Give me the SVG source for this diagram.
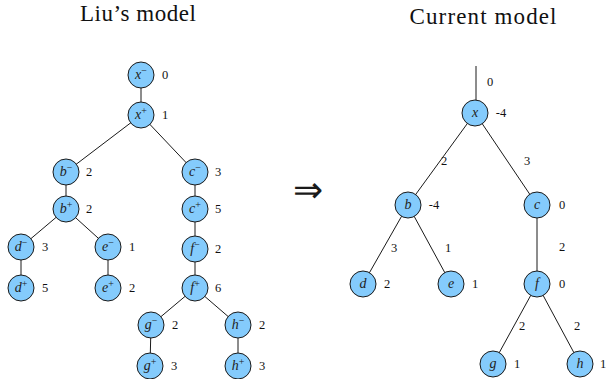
<svg xmlns="http://www.w3.org/2000/svg" width="606" height="379" viewBox="0 0 606 379">
<style>
.title{font-family:"Liberation Serif","Times New Roman",serif;font-size:23px;fill:#111;text-anchor:middle}
.node circle{fill:#84cbfc;stroke:#1a1a1a;stroke-width:1}
.nl{font-family:"Liberation Serif","Times New Roman",serif;font-style:italic;font-size:14px;fill:#222;text-anchor:middle}
.sup{font-size:10px;font-style:normal}
.lab{font-family:"Liberation Serif","Times New Roman",serif;font-size:12.5px;fill:#111;text-anchor:middle}
#connectors line{stroke:#1a1a1a;stroke-width:1}
</style>
<rect width="606" height="379" fill="#fff"/>
<text class="title" x="138" y="21" textLength="116" lengthAdjust="spacing">Liu’s model</text>
<text class="title" x="483" y="24" textLength="147" lengthAdjust="spacing">Current model</text>
<text x="308" y="202" style="font-family:'DejaVu Sans',sans-serif;font-weight:200;font-size:36px;fill:#1a1a1a;text-anchor:middle">⇒</text>

<g id="connectors">
<line x1="141" y1="75" x2="141" y2="115"/>
<line x1="141" y1="115" x2="66" y2="172"/>
<line x1="141" y1="115" x2="195" y2="172"/>
<line x1="66" y1="172" x2="66" y2="209"/>
<line x1="195" y1="172" x2="195" y2="209"/>
<line x1="66" y1="209" x2="21" y2="247"/>
<line x1="66" y1="209" x2="108" y2="247"/>
<line x1="195" y1="209" x2="195" y2="249"/>
<line x1="21" y1="247" x2="21" y2="288"/>
<line x1="108" y1="247" x2="108" y2="288"/>
<line x1="195" y1="249" x2="195" y2="288"/>
<line x1="195" y1="288" x2="151" y2="325"/>
<line x1="195" y1="288" x2="238" y2="325"/>
<line x1="151" y1="325" x2="150" y2="366"/>
<line x1="238" y1="325" x2="238" y2="366"/>

<line x1="476" y1="66" x2="476" y2="113"/>
<line x1="475" y1="113" x2="408" y2="205"/>
<line x1="475" y1="113" x2="537" y2="205"/>
<line x1="408" y1="205" x2="363" y2="284"/>
<line x1="408" y1="205" x2="451" y2="284"/>
<line x1="537" y1="205" x2="537" y2="284"/>
<line x1="537" y1="284" x2="493" y2="364"/>
<line x1="537" y1="284" x2="580" y2="364"/>
</g>

<g id="xm" class="node"><circle cx="141" cy="75" r="13"/><text class="nl" x="141" y="79">x<tspan class="sup" dy="-5">−</tspan></text><text class="lab" x="165" y="79">0</text></g>
<g id="xp" class="node"><circle cx="141" cy="115" r="13"/><text class="nl" x="141" y="119">x<tspan class="sup" dy="-5">+</tspan></text><text class="lab" x="165" y="119">1</text></g>
<g id="bm" class="node"><circle cx="66" cy="172" r="13"/><text class="nl" x="66" y="176">b<tspan class="sup" dy="-5">−</tspan></text><text class="lab" x="89" y="176">2</text></g>
<g id="bp" class="node"><circle cx="66" cy="209" r="13"/><text class="nl" x="66" y="213">b<tspan class="sup" dy="-5">+</tspan></text><text class="lab" x="89" y="213">2</text></g>
<g id="cm" class="node"><circle cx="195" cy="172" r="13"/><text class="nl" x="195" y="176">c<tspan class="sup" dy="-5">−</tspan></text><text class="lab" x="218" y="176">3</text></g>
<g id="cp" class="node"><circle cx="195" cy="209" r="13"/><text class="nl" x="195" y="213">c<tspan class="sup" dy="-5">+</tspan></text><text class="lab" x="218" y="213">5</text></g>
<g id="dm" class="node"><circle cx="21" cy="247" r="13"/><text class="nl" x="21" y="251">d<tspan class="sup" dy="-5">−</tspan></text><text class="lab" x="45" y="251">3</text></g>
<g id="dp" class="node"><circle cx="21" cy="288" r="13"/><text class="nl" x="21" y="292">d<tspan class="sup" dy="-5">+</tspan></text><text class="lab" x="45" y="292">5</text></g>
<g id="em" class="node"><circle cx="108" cy="247" r="13"/><text class="nl" x="108" y="251">e<tspan class="sup" dy="-5">−</tspan></text><text class="lab" x="132" y="251">1</text></g>
<g id="ep" class="node"><circle cx="108" cy="288" r="13"/><text class="nl" x="108" y="292">e<tspan class="sup" dy="-5">+</tspan></text><text class="lab" x="132" y="292">2</text></g>
<g id="fm" class="node"><circle cx="195" cy="249" r="13"/><text class="nl" x="195" y="253">f<tspan class="sup" dy="-5">−</tspan></text><text class="lab" x="218" y="253">2</text></g>
<g id="fp" class="node"><circle cx="195" cy="288" r="13"/><text class="nl" x="195" y="292">f<tspan class="sup" dy="-5">+</tspan></text><text class="lab" x="218" y="292">6</text></g>
<g id="gm" class="node"><circle cx="151" cy="325" r="13"/><text class="nl" x="151" y="329">g<tspan class="sup" dy="-5">−</tspan></text><text class="lab" x="175" y="329">2</text></g>
<g id="gp" class="node"><circle cx="150" cy="366" r="13"/><text class="nl" x="150" y="370">g<tspan class="sup" dy="-5">+</tspan></text><text class="lab" x="174" y="370">3</text></g>
<g id="hm" class="node"><circle cx="238" cy="325" r="13"/><text class="nl" x="238" y="329">h<tspan class="sup" dy="-5">−</tspan></text><text class="lab" x="262" y="329">2</text></g>
<g id="hp" class="node"><circle cx="238" cy="366" r="13"/><text class="nl" x="238" y="370">h<tspan class="sup" dy="-5">+</tspan></text><text class="lab" x="262" y="370">3</text></g>

<g id="x" class="node"><circle cx="475" cy="113" r="13"/><text class="nl" x="475" y="117">x</text><text class="lab" x="501" y="117">-4</text></g>
<g id="b" class="node"><circle cx="408" cy="205" r="13"/><text class="nl" x="408" y="209">b</text><text class="lab" x="434" y="209">-4</text></g>
<g id="c" class="node"><circle cx="537" cy="205" r="13"/><text class="nl" x="537" y="209">c</text><text class="lab" x="562" y="209">0</text></g>
<g id="d" class="node"><circle cx="363" cy="284" r="13"/><text class="nl" x="363" y="288">d</text><text class="lab" x="387" y="288">2</text></g>
<g id="e" class="node"><circle cx="451" cy="284" r="13"/><text class="nl" x="451" y="288">e</text><text class="lab" x="475" y="288">1</text></g>
<g id="f" class="node"><circle cx="537" cy="284" r="13"/><text class="nl" x="537" y="288">f</text><text class="lab" x="562" y="288">0</text></g>
<g id="g" class="node"><circle cx="493" cy="364" r="13"/><text class="nl" x="493" y="368">g</text><text class="lab" x="517" y="368">1</text></g>
<g id="h" class="node"><circle cx="580" cy="364" r="13"/><text class="nl" x="580" y="368">h</text><text class="lab" x="603" y="368">1</text></g>

<g id="edge-labels">
<text class="lab" x="490" y="86">0</text>
<text class="lab" x="444" y="165">2</text>
<text class="lab" x="527" y="165">3</text>
<text class="lab" x="394" y="252">3</text>
<text class="lab" x="448" y="252">1</text>
<text class="lab" x="562" y="251">2</text>
<text class="lab" x="522" y="330">2</text>
<text class="lab" x="577" y="330">2</text>
</g>
</svg>
